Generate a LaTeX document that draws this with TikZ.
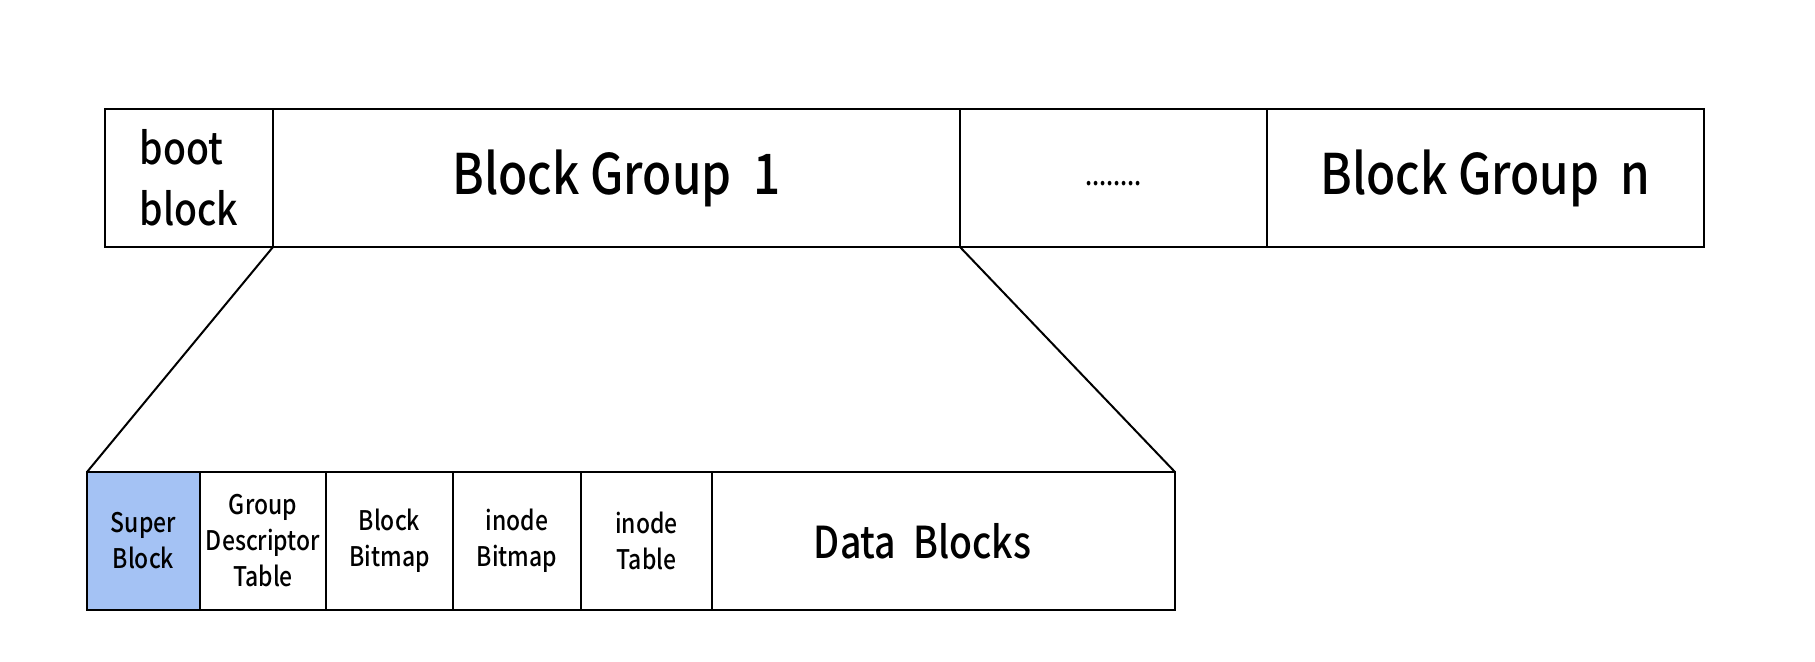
\documentclass[tikz,border=0pt]{standalone}
\usepackage{fontspec}
\setmainfont{Noto Sans CJK SC Medium}[FakeStretch=0.85]
\usetikzlibrary{positioning}
\definecolor{superblue}{HTML}{A4C2F4}

\tikzset{
  cell/.style={draw=black, line width=1pt, inner sep=0pt, outer sep=0pt, minimum height=69pt, align=center},
  bigtext/.style={font=\fontsize{28}{34}\selectfont},
  smalltext/.style={font=\fontsize{13.5}{18}\selectfont},
}

\begin{document}
\begin{tikzpicture}[x=0.5pt, y=-0.5pt]
      \useasboundingbox (0, 0) rectangle (1815, 661);

      % disk layout
      \node[cell, minimum width=84pt, align=left, font=\fontsize{22}{30.5}\selectfont] (boot) at (189, 178) {boot\\block};
      \node[cell, minimum width=343.5pt, anchor=west, bigtext] (bgone) at (boot.east) {Block Group\ \ 1};
      \node[cell, minimum width=153.5pt, anchor=west, font=\fontsize{14}{16}\selectfont] (dots) at (bgone.east) {\raisebox{-3.5pt}[0pt][0pt]{........}};
      \node[cell, minimum width=218.5pt, anchor=west, bigtext, line width=1.3pt] (bgn) at (dots.east) {Block Group\ \ n};

      % block group 1 layout
      \node[cell, minimum width=56.5pt, fill=superblue, smalltext] (super) at (143.5, 541) {Super\\Block};
      \node[cell, minimum width=63pt, anchor=west, smalltext] (gdt) at (super.east) {Group\\Descriptor\\Table};
      \node[cell, minimum width=63.5pt, anchor=west, smalltext] (bbitmap) at (gdt.east) {Block\\Bitmap};
      \node[cell, minimum width=64pt, anchor=west, smalltext] (ibitmap) at (bbitmap.east) {inode\\Bitmap};
      \node[cell, minimum width=65.5pt, anchor=west, smalltext] (itable) at (ibitmap.east) {inode\\Table};
      \node[cell, minimum width=231.5pt, anchor=west, font=\fontsize{22}{26}\selectfont] (data) at (itable.east) {Data\ \ Blocks\hspace*{21pt}};

      \draw[black, line width=1pt] (bgone.south west) -- (super.north west);
      \draw[black, line width=1pt] (bgone.south east) -- (data.north east);
    \end{tikzpicture}
\end{document}
